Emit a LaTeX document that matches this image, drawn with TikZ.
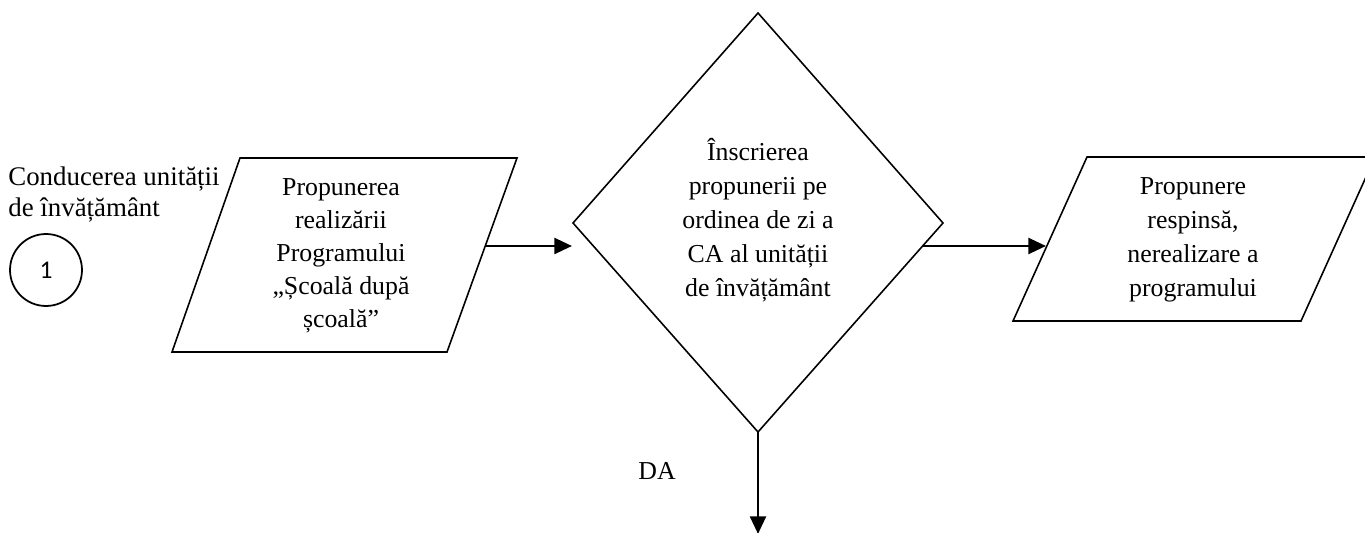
\documentclass[tikz,border=0pt]{standalone}
\usepackage{fontspec}
\setmainfont{Liberation Serif}
\newfontfamily\numfont{Carlito}
\usetikzlibrary{arrows.meta}

\tikzset{
  box/.style={draw, line width=0.9pt, line join=miter},
  txt/.style={align=center, inner sep=0pt, font=\fontsize{14.7}{19.3}\selectfont},
  lbl/.style={align=left, inner sep=0pt, font=\fontsize{15.3}{18.2}\selectfont},
  flow/.style={-{Triangle[length=10pt,width=9pt]}, line width=1.5pt},
}

\begin{document}
\begin{tikzpicture}[x=0.02cm, y=-0.02cm]
\useasboundingbox (0,0) rectangle (1365,533);

\node[lbl, anchor=north west] (cond) at (8,166) {Conducerea unității\\de învățământ};
\node[circle, draw, line width=1pt, minimum size=1.44cm, inner sep=0pt,
      font=\numfont\fontsize{14.5}{17}\selectfont] (unu) at (46,270) {1};

\coordinate (pl1) at (240,158);
\coordinate (pl2) at (517,158);
\coordinate (pl3) at (447,352);
\coordinate (pl4) at (172,352);
\draw[box] (pl1) -- (pl2) -- (pl3) -- (pl4) -- cycle;
\node[txt, font=\fontsize{14.7}{18.7}\selectfont] (prop) at (341,256) {Propunerea\\realizării\\Programului\\„Școală după\\școală”};

\coordinate (dn) at (758,13);
\coordinate (de) at (943,223);
\coordinate (ds) at (758,432);
\coordinate (dw) at (573,223);
\draw[box] (dn) -- (de) -- (ds) -- (dw) -- cycle;
\node[txt] (inscr) at (758,220) {Înscrierea\\propunerii pe\\ordinea de zi a\\CA al unității\\de învățământ};

\coordinate (pr1) at (1087,157);
\coordinate (pr2) at (1375,157);
\coordinate (pr3) at (1301,321);
\coordinate (pr4) at (1013,321);
\draw[box] (pr1) -- (pr2) -- (pr3) -- (pr4) -- cycle;
\node[txt] (resp) at (1193,240) {Propunere\\respinsă,\\nerealizare a\\programului};

\coordinate (pl-out) at (485,246);
\coordinate (d-in) at (572,246);
\coordinate (d-out) at (922,246);
\coordinate (pr-in) at (1046,246);
\coordinate (da-end) at (758,534);

\draw[flow] (pl-out) -- (d-in);
\draw[flow] (d-out) -- (pr-in);
\draw[flow] (ds) -- (da-end);

\node[txt] (da) at (657,471) {DA};
\end{tikzpicture}
\end{document}
